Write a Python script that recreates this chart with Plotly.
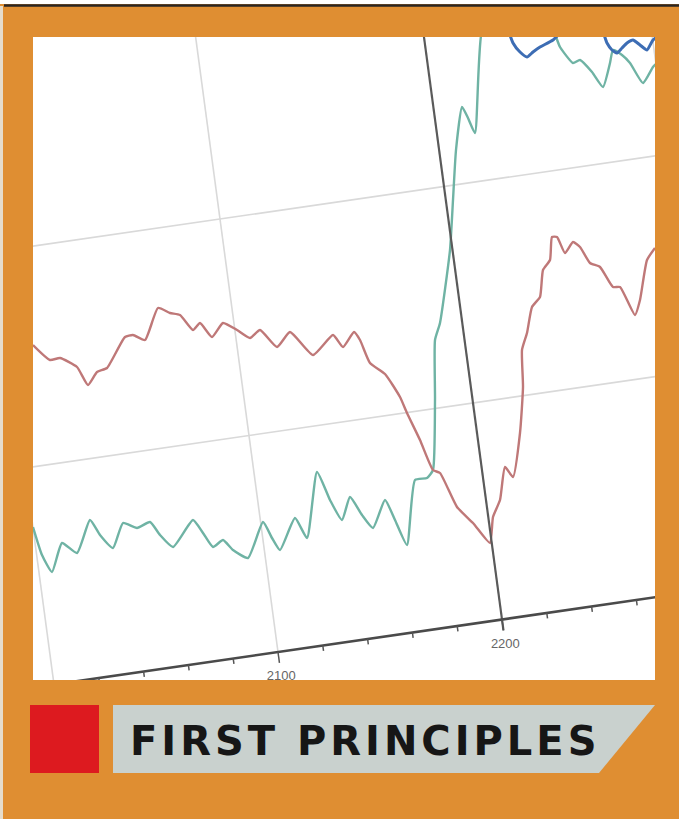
import plotly.graph_objects as go

W, H = 679, 819

# ---- data (positions inside the white plot area, px units) ----
red_x = [33, 50, 60, 77, 88, 97, 107, 125, 133, 145, 158, 170, 180, 193, 200, 212, 223, 237, 250, 260,
         277, 290, 313, 333, 343, 354, 360, 370, 385, 400, 407, 420, 433, 440, 457, 473, 490, 493, 500,
         505, 513, 520, 523, 522, 527, 532, 540, 543, 550, 552, 557, 565, 573, 580, 590, 600, 613, 620,
         635, 640, 647, 655]
red_y = [345, 360, 358, 367, 385, 372, 368, 337, 335, 340, 308, 313, 315, 330, 323, 337, 323, 330, 338, 330,
         347, 332, 355, 335, 347, 332, 340, 363, 374, 397, 413, 440, 470, 473, 507, 523, 543, 517, 500,
         467, 477, 433, 387, 350, 333, 307, 297, 270, 260, 237, 237, 253, 242, 247, 263, 267, 287, 287,
         315, 300, 260, 248]

green_x = [33, 42, 52, 62, 77, 90, 100, 113, 123, 137, 150, 160, 173, 193, 203, 213, 223, 233, 248, 263,
           272, 280, 295, 307, 317, 330, 342, 350, 362, 373, 385, 395, 407, 415, 427, 433, 435, 435, 440,
           450, 453, 456, 462, 468, 475, 482, 500, 530, 553, 560, 573, 580, 592, 603, 610, 613, 622, 630,
           643, 653, 658]
green_y = [527, 555, 572, 543, 553, 520, 535, 548, 523, 528, 522, 535, 547, 520, 533, 547, 540, 550, 558, 522,
           538, 550, 518, 538, 472, 500, 520, 497, 515, 528, 500, 520, 545, 480, 478, 470, 400, 340, 323,
           250, 200, 150, 107, 118, 133, 30, 5, 10, 30, 47, 63, 60, 72, 87, 63, 50, 55, 63,
           83, 67, 62]

blue_x = [505, 513, 520, 527, 533, 540, 553, 563, 580, 600, 607, 612, 617, 622, 627, 633, 640, 647, 653, 660]
blue_y = [20, 43, 52, 57, 52, 47, 40, 30, 15, 25, 43, 50, 53, 48, 43, 40, 45, 50, 40, 35]

# rotated chart frame (photographed at an angle)
grid_years = [2000, 2100, 2200, 2300]
grid_values = [1, 2, 3]
minor_years = list(range(1980, 2400, 20))
label_years = [2100, 2200]
marker_year = 2200
banner_text = "FIRST PRINCIPLES"

# frame geometry: where year 2100 / value 0 sits and the step per year / per value unit
O_X, O_Y = 278.0, 652.0
YR_DX, YR_DY = 2.24, -0.325
V_DX, V_DY = -29.0, -216.5


def frame(year, val):
    t = year - 2100
    return O_X + t * YR_DX + val * V_DX, O_Y + t * YR_DY + val * V_DY


def segs(pairs):
    xs, ys = [], []
    for (a, b) in pairs:
        for p in (a, b):
            x, y = frame(*p)
            xs.append(x)
            ys.append(y)
        xs.append(None)
        ys.append(None)
    return xs, ys


ORANGE = "#DF8E32"
X0, X1, Y0, Y1 = 33, 655, 37, 680


def px(x):
    return x / W


def py(y):
    return 1 - y / H


fig = go.Figure()

# grid
gx, gy = segs([((yr, 0), (yr, 3.3)) for yr in grid_years if yr != marker_year] +
              [((1950, v), (2400, v)) for v in grid_values])
fig.add_trace(go.Scatter(x=gx, y=gy, mode="lines", line=dict(color="#D9D9D9", width=1.6),
                         hoverinfo="skip", showlegend=False))

# series
fig.add_trace(go.Scatter(x=green_x, y=green_y, mode="lines",
                         line=dict(color="#6FB3A4", width=2.4, shape="spline", smoothing=0.5),
                         hoverinfo="skip", showlegend=False))
fig.add_trace(go.Scatter(x=red_x, y=red_y, mode="lines",
                         line=dict(color="#BF7878", width=2.4, shape="spline", smoothing=0.5),
                         hoverinfo="skip", showlegend=False))
fig.add_trace(go.Scatter(x=blue_x, y=blue_y, mode="lines",
                         line=dict(color="#3D6DB4", width=3, shape="spline", smoothing=0.5),
                         hoverinfo="skip", showlegend=False))

# marker line at 2200
mx, my = segs([((marker_year, -0.05), (marker_year, 3.3))])
fig.add_trace(go.Scatter(x=mx, y=my, mode="lines", line=dict(color="#5A5A5A", width=2.2),
                         hoverinfo="skip", showlegend=False))

# x axis line and ticks
ax, ay = segs([((1950, 0), (2400, 0))])
fig.add_trace(go.Scatter(x=ax, y=ay, mode="lines", line=dict(color="#4A4A4A", width=2.6),
                         hoverinfo="skip", showlegend=False))
tx, ty = segs([((yr, 0), (yr, -0.05 if yr in label_years else -0.025)) for yr in minor_years])
fig.add_trace(go.Scatter(x=tx, y=ty, mode="lines", line=dict(color="#555555", width=1.5),
                         hoverinfo="skip", showlegend=False))

# tick labels (clipped by plot area)
lx, ly = zip(*[frame(yr, -0.115) for yr in label_years])
fig.add_trace(go.Scatter(x=list(lx), y=list(ly), mode="text", text=[str(y) for y in label_years],
                         textfont=dict(family="Liberation Sans", size=13, color="#666666"),
                         hoverinfo="skip", showlegend=False, cliponaxis=True))

shapes = [
    dict(type="rect", xref="paper", yref="paper", x0=0, x1=1, y0=py(4), y1=1,
         fillcolor="white", line=dict(width=0), layer="below"),
    dict(type="line", xref="paper", yref="paper", x0=px(4), x1=1, y0=py(5.5), y1=py(5.5),
         line=dict(color="#2A2522", width=2.5)),
    dict(type="rect", xref="paper", yref="paper", x0=0, x1=px(3), y0=0, y1=py(6),
         fillcolor="#E6DCCB", line=dict(width=0)),
    dict(type="rect", xref="paper", yref="paper", x0=px(30), x1=px(99), y0=py(773), y1=py(705),
         fillcolor="#DD1A1F", line=dict(width=0)),
    dict(type="path", xref="paper", yref="paper",
         path=f"M {px(113)},{py(705)} L {px(655)},{py(705)} L {px(599)},{py(773)} L {px(113)},{py(773)} Z",
         fillcolor="#C9D1CE", line=dict(width=0)),
]

# widen the lettering slightly, as in the banner's extended typeface
spaced_text = "\u200a".join(banner_text)

fig.update_layout(
    width=W, height=H,
    margin=dict(l=0, r=0, t=0, b=0),
    paper_bgcolor=ORANGE,
    plot_bgcolor="white",
    xaxis=dict(domain=[px(X0), px(X1)], range=[X0, X1], visible=False, fixedrange=True),
    yaxis=dict(domain=[py(Y1), py(Y0)], range=[Y1, Y0], visible=False, fixedrange=True),
    shapes=shapes,
    annotations=[dict(xref="paper", yref="paper", x=px(363), y=py(741), text=f"<b>{spaced_text}</b>",
                      showarrow=False, xanchor="center", yanchor="middle",
                      font=dict(family="DejaVu Sans", size=40, color="#161616"))],
)

fig.write_html("out.html")
